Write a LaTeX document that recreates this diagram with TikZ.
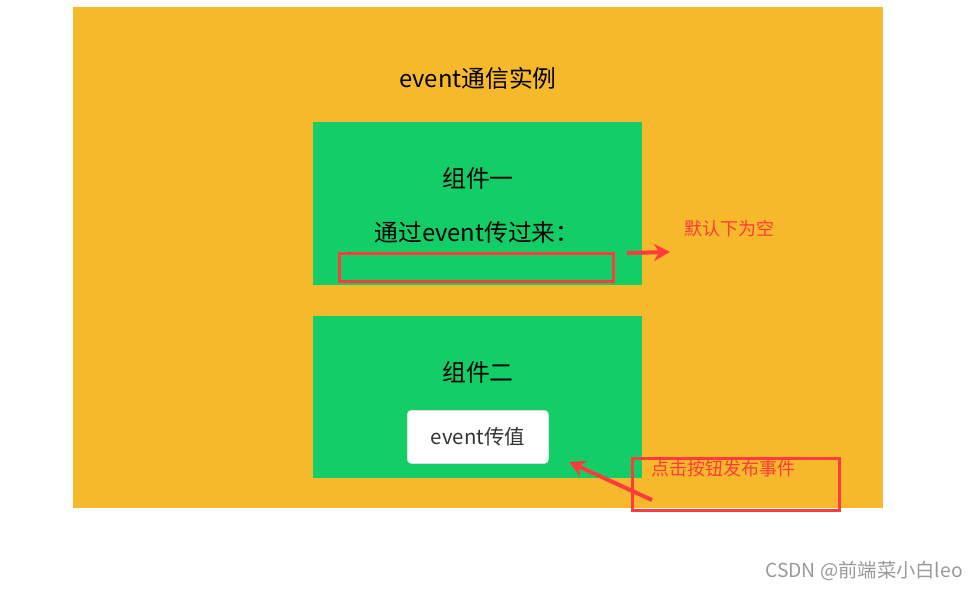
\documentclass[tikz,border=0pt]{standalone}
\usepackage{fontspec}
\setmainfont{Noto Sans CJK SC}
\usetikzlibrary{arrows.meta}
\definecolor{bgorange}{HTML}{F6B92B}
\definecolor{cgreen}{HTML}{13CE66}
\definecolor{mark}{HTML}{FF3B3B}
\definecolor{btnborder}{HTML}{DCDFE6}
\definecolor{btntext}{HTML}{333333}
\definecolor{wm}{HTML}{9A9A9A}
\tikzset{
  panel/.style={fill=cgreen, draw=none, anchor=north west, inner sep=0pt},
  heading/.style={font=\fontsize{23.8}{27}\selectfont, text=black, inner sep=0pt},
  markbox/.style={draw=mark, line width=2.6pt, anchor=north west, inner sep=0pt},
  note/.style={font=\fontsize{18}{21}\selectfont, text=mark, inner sep=0pt},
  markarrow/.style={draw=mark, fill=mark, line width=4pt, -{Stealth[length=16pt,width=17pt]}},
}
\begin{document}
\begin{tikzpicture}[x=1pt,y=-1pt]
\useasboundingbox (0,0) rectangle (978,589);
\fill[white] (0,0) rectangle (978,589);
\node[fill=bgorange, anchor=north west, minimum width=810pt, minimum height=501pt, inner sep=0pt] (bg) at (73,7) {};
\node[heading] (title) at (478,78) {event通信实例};

\node[panel, minimum width=329pt, minimum height=163pt] (p1) at (313,122) {};
\node[heading] (h1) at (478,178) {组件一};
\node[heading] (recv) at (477,232) {通过event传过来：};
\node[markbox, minimum width=274pt, minimum height=28pt] (empty) at (338,252) {};
\coordinate (a1s) at (627,253);
\coordinate (a1e) at (670,252);
\draw[markarrow] (a1s) -- (a1e);
\node[note, anchor=west] (n1) at (684,229) {默认下为空};

\node[panel, minimum width=329pt, minimum height=162pt] (p2) at (313,316) {};
\node[heading] (h2) at (478,372) {组件二};
\node[draw=btnborder, fill=white, rounded corners=4pt, line width=0.8pt, minimum width=141pt, minimum height=53pt, anchor=north west, inner sep=0pt] (btn) at (407,410) {};
\node[font=\fontsize{20.4}{24}\selectfont, text=btntext, inner sep=0pt] (btntxt) at (btn.center) {event传值};

\node[markbox, minimum width=207pt, minimum height=52pt] (clickbox) at (631,457) {};
\node[note, anchor=west] (n2) at (651,469) {点击按钮发布事件};
\coordinate (a2s) at (652,500);
\coordinate (a2e) at (569,462);
\draw[markarrow] (a2s) -- (a2e);

\node[font=\fontsize{19.3}{22}\selectfont, text=wm, anchor=east, inner sep=0pt] (wmk) at (963,571) {CSDN @前端菜小白leo};
\end{tikzpicture}
\end{document}
